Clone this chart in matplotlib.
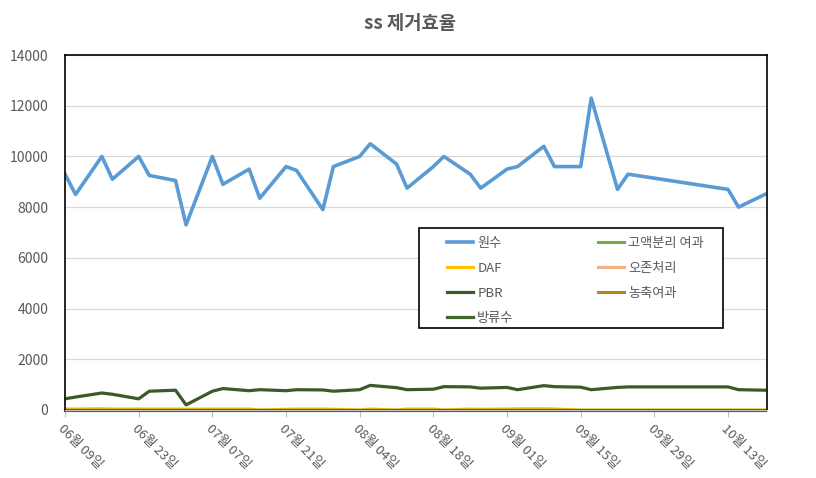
import numpy as np
import pandas as pd
import matplotlib
matplotlib.use("Agg")
import matplotlib.pyplot as plt
import matplotlib.dates as mdates
from matplotlib.patches import Rectangle

plt.rcParams['font.family'] = ['Noto Sans CJK KR', 'DejaVu Sans']

# sampling days (offset from 06/09)
day_offsets = [0, 2, 7, 9, 14, 16, 21, 23, 28, 30, 35, 37, 42, 44, 49, 51, 56, 58,
               63, 65, 70, 72, 77, 79, 84, 86, 91, 93, 98, 100, 105, 107, 126, 128, 133]
dates = pd.Timestamp("2014-06-09") + pd.to_timedelta(day_offsets, unit="D")

raw = [9300, 8500, 10000, 9100, 10000, 9250, 9050, 7300, 10000, 8900, 9500, 8350,
       9600, 9450, 7900, 9600, 10000, 10500, 9700, 8750, 9600, 10000, 9300, 8750,
       9500, 9600, 10400, 9600, 9600, 12300, 8700, 9300, 8700, 8000, 8500]
solid_sep = [np.nan] * len(day_offsets)
daf = [40, 40, 50, 40, 40, 40, 40, 30, 40, 40, 40, 0, 30, 40, 40, 30, 0, 40,
       0, 40, 40, 0, 40, 30, 40, 50, 50, 40, 0, 0, 0, 0, 0, 0, 0]
ozone = [np.nan] * len(day_offsets)
pbr = [440, 510, 670, 620, 440, 740, 780, 200, 740, 845, 760, 800, 760, 800,
       790, 740, 800, 970, 880, 800, 820, 920, 910, 860, 890, 800, 960, 920,
       900, 800, 890, 910, 910, 800, 780]
conc = [np.nan] * len(day_offsets)
effluent = [0] * len(day_offsets)

fig = plt.figure(figsize=(8.16, 4.78), dpi=100)
ax = fig.add_axes([0.0797, 0.1423, 0.8603, 0.7426])

h_raw, = ax.plot(dates, raw, color="#5b9bd5", lw=2.6, label="원수", solid_joinstyle="round")
h_sep, = ax.plot(dates, solid_sep, color="#70ad47", lw=2.2, label="고액분리 여과")
h_daf, = ax.plot(dates, daf, color="#ffc000", lw=2.2, label="DAF")
h_oz, = ax.plot(dates, ozone, color="#f4b183", lw=2.2, label="오존처리")
h_pbr, = ax.plot(dates, pbr, color="#3b5a26", lw=2.3, label="PBR")
h_con, = ax.plot(dates, conc, color="#b08a16", lw=2.2, label="농축여과")
h_eff, = ax.plot(dates, effluent, color="#43682b", lw=2.3, label="방류수", clip_on=False)

ax.set_ylim(0, 14000)
ax.set_yticks(np.arange(0, 14001, 2000))
ax.set_xlim(dates[0], dates[-1] + pd.Timedelta(hours=10))
ax.set_xticks(pd.date_range(dates[0], periods=10, freq="14D"))
ax.xaxis.set_major_formatter(mdates.DateFormatter("%m월 %d일"))

ax.grid(axis="y", color="#d9d9d9", lw=0.9)
ax.set_axisbelow(True)
for side in ["left", "top", "right"]:
    ax.spines[side].set_color("black")
    ax.spines[side].set_linewidth(1.2)
ax.spines["bottom"].set_color("#bfbfbf")

ax.tick_params(axis="y", length=0, labelsize=10, labelcolor="#595959", pad=12)
ax.tick_params(axis="x", length=5, color="#bfbfbf", labelsize=9.5, labelcolor="#595959", pad=4)
for lab in ax.get_xticklabels():
    lab.set_rotation(-45)
    lab.set_ha("left")
    lab.set_va("top")
    lab.set_rotation_mode("anchor")

fig.suptitle("ss 제거효율", x=0.502, y=0.97, fontsize=13.5, fontweight="bold", color="#595959")

# legend box drawn separately so the entries can sit inset like the excel one
ax.add_patch(Rectangle((0.504, 0.231), 0.433, 0.282, transform=ax.transAxes,
                       facecolor="white", edgecolor="black", lw=1.2, zorder=4))
handles = [h_raw, h_daf, h_pbr, h_eff, h_sep, h_oz, h_con]
leg = ax.legend(handles=handles, labels=[h.get_label() for h in handles], ncol=2,
                loc="upper left", bbox_to_anchor=(0.544, 0.488),
                borderaxespad=0, borderpad=0, fontsize=9.5, frameon=False,
                handlelength=2.0, handletextpad=0.3, labelspacing=0.91, columnspacing=6.4)
leg.set_zorder(5)
for t in leg.get_texts():
    t.set_color("#595959")

fig.savefig("out.png", dpi=100)
